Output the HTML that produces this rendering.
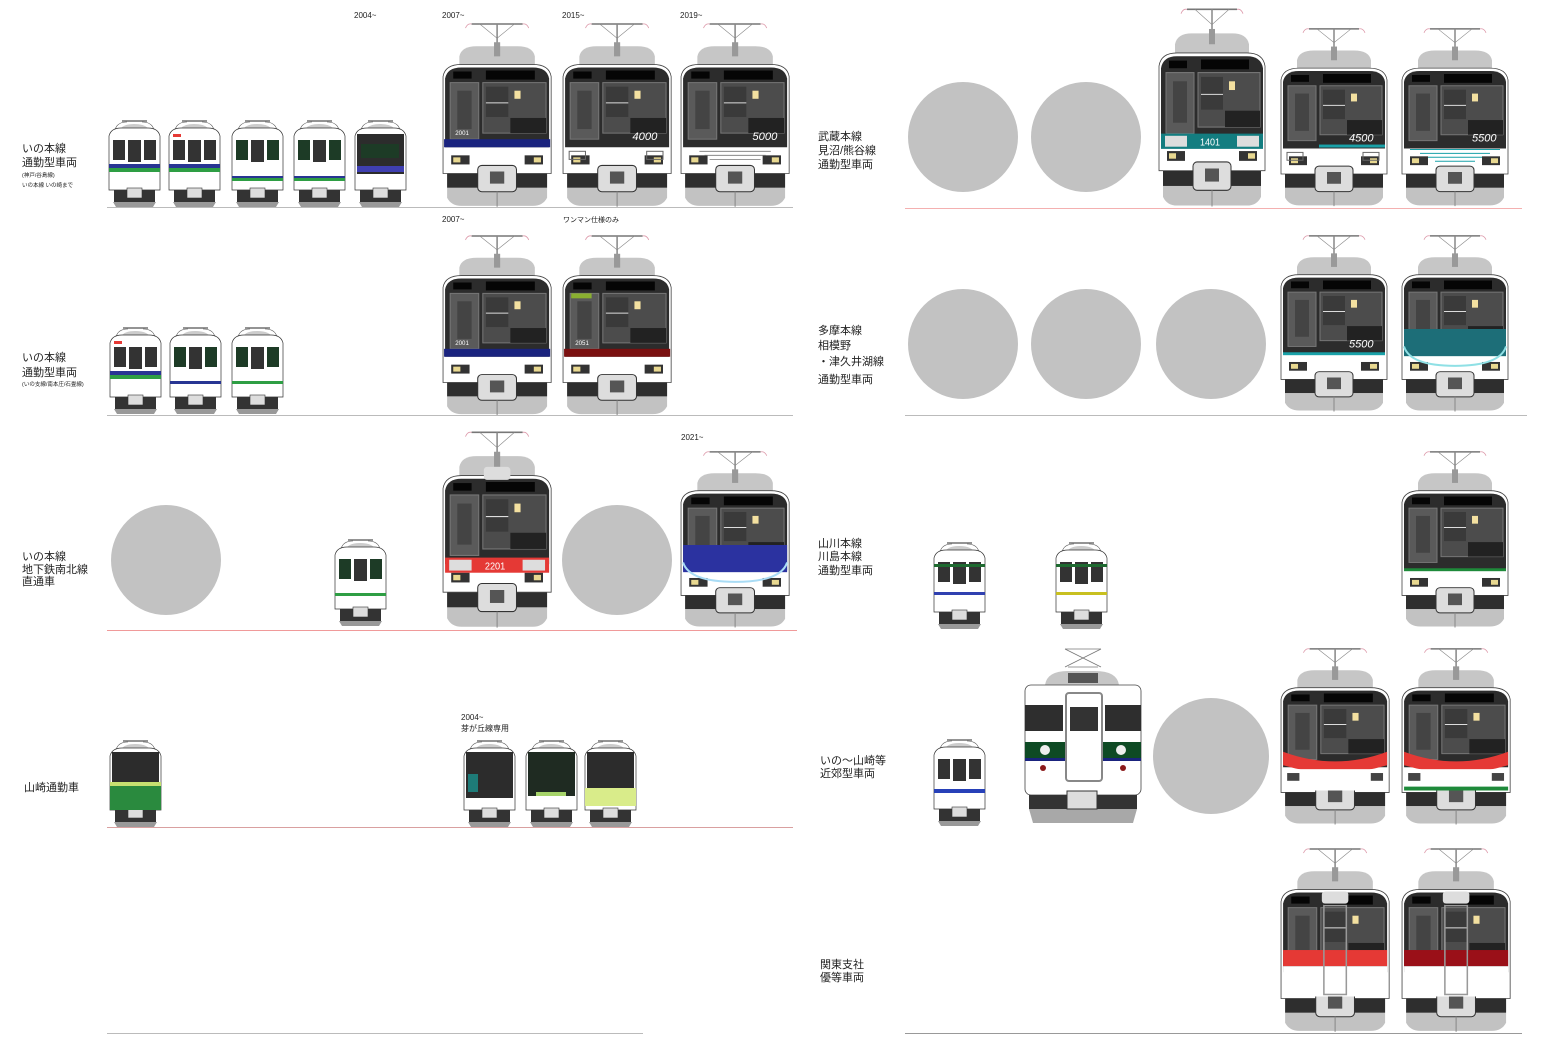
<!DOCTYPE html>
<html><head><meta charset="utf-8"><style>
html,body{margin:0;padding:0;background:#fff;}
svg{display:block;}
text{font-family:"Liberation Sans","Noto Sans CJK JP",sans-serif;fill:#222;}
</style></head><body>
<svg width="1559" height="1051" viewBox="0 0 1559 1051" xmlns="http://www.w3.org/2000/svg">
<defs>
<symbol id="T" viewBox="0 0 110 185" width="110" height="185">
  <line x1="30" y1="4" x2="80" y2="4" stroke="#777" stroke-width="1.5"/>
  <path d="M24 8 Q26 3 30 4 M80 4 Q84 3 86 8" stroke="#d9a" fill="none" stroke-width="0.8"/>
  <line x1="55" y1="4" x2="55" y2="28" stroke="#888" stroke-width="1.5"/>
  <path d="M38 4 L55 18 L72 4" stroke="#888" fill="none" stroke-width="0.6"/>
  <path d="M18 48 L18 36 Q20 26 35 26 L75 26 Q90 26 92 36 L92 48 Z" fill="#c6c6c6"/>
  <rect x="52" y="22" width="6" height="14" fill="#999"/>
  <path d="M2 152 L2 56 Q4 44 20 44 L90 44 Q106 44 108 56 L108 152 Z" fill="#fff" stroke="#444" stroke-width="0.8"/>
  <path d="M4 126 L4 58 Q6 47 20 47 L90 47 Q104 47 106 58 L106 126 Z" fill="#2c2c2c"/>
  <rect x="44" y="50" width="48" height="9" fill="#050505"/>
  <rect x="12" y="51" width="18" height="7" fill="#050505"/>
  <rect x="9" y="62" width="28" height="56" fill="#5a5a5a" stroke="#777" stroke-width="1"/>
  <rect x="16" y="70" width="14" height="38" fill="#444"/>
  <rect x="41" y="62" width="62" height="50" fill="#4c4c4c" stroke="#777" stroke-width="1"/>
  <rect x="44" y="66" width="22" height="30" fill="#3a3a3a"/>
  <line x1="44" y1="82" x2="66" y2="82" stroke="#ddd" stroke-width="1"/>
  <rect x="72" y="70" width="6" height="8" fill="#f3e0a0"/>
  <rect x="68" y="97" width="35" height="15" fill="#222"/>
  <rect x="10" y="134" width="18" height="9" fill="#333"/>
  <rect x="82" y="134" width="18" height="9" fill="#333"/>
  <rect x="12" y="136" width="7" height="5" fill="#e8d890"/>
  <rect x="91" y="136" width="7" height="5" fill="#e8d890"/>
  <path d="M6 152 L104 152 L104 176 Q100 184 90 184 L20 184 Q10 184 6 176 Z" fill="#c2c2c2"/>
  <rect x="6" y="152" width="98" height="14" fill="#2e2e2e"/>
  <rect x="36" y="144" width="38" height="26" rx="4" fill="#ddd" stroke="#333" stroke-width="1"/>
  <rect x="48" y="150" width="14" height="12" fill="#555"/>
  <line x1="55" y1="170" x2="55" y2="185" stroke="#888"/>
</symbol>
<symbol id="S" viewBox="0 0 55 90" width="55" height="90">
  <line x1="15" y1="3" x2="40" y2="3" stroke="#555" stroke-width="1.2"/>
  <path d="M8 12 Q10 4 20 4 M35 4 Q45 4 47 12" stroke="#555" fill="none" stroke-width="0.6"/>
  <path d="M12 14 Q14 6 27 6 Q41 6 43 14 Z" fill="#ccc"/>
  <path d="M2 72 L2 18 Q4 10 14 10 L41 10 Q51 10 53 18 L53 72 Z" fill="#fff" stroke="#333" stroke-width="0.7"/>
  <rect x="6" y="22" width="12" height="20" fill="#333"/>
  <rect x="21" y="22" width="13" height="22" fill="#333"/>
  <rect x="37" y="22" width="12" height="20" fill="#333"/>
  <rect x="7" y="72" width="41" height="12" fill="#333"/>
  <rect x="20" y="70" width="15" height="10" fill="#ddd" stroke="#333" stroke-width="0.6"/>
  <path d="M6 84 L49 84 L46 89 L9 89 Z" fill="#999"/>
</symbol>
</defs>

<g stroke-width="1">
<line x1="107" y1="207.5" x2="793" y2="207.5" stroke="#bbb"/>
<line x1="107" y1="415.5" x2="793" y2="415.5" stroke="#bbb"/>
<line x1="107" y1="630.5" x2="797" y2="630.5" stroke="#f09a9a"/>
<line x1="107" y1="827.5" x2="793" y2="827.5" stroke="#d9a0a0"/>
<line x1="107" y1="1033.5" x2="643" y2="1033.5" stroke="#bbb"/>
<line x1="905" y1="208.5" x2="1522" y2="208.5" stroke="#f4b0b0"/>
<line x1="905" y1="415.5" x2="1527" y2="415.5" stroke="#bbb"/>
<line x1="905" y1="1033.5" x2="1522" y2="1033.5" stroke="#999"/>
</g>

<g fill="#c2c2c2">
<circle cx="963" cy="137" r="55"/><circle cx="1086" cy="137" r="55"/>
<circle cx="963" cy="344" r="55"/><circle cx="1086" cy="344" r="55"/><circle cx="1211" cy="344" r="55"/>
<circle cx="166" cy="560" r="55"/><circle cx="617" cy="560" r="55"/>
<circle cx="1211" cy="756" r="58"/>
</g>

<g font-size="11">
<text x="22" y="152">いの本線</text><text x="22" y="166">通勤型車両</text>
<text x="22" y="177" font-size="5.5">(神戸/谷島線)</text><text x="22" y="187" font-size="5.5">いの本線 いの崎まで</text>
<text x="22" y="361">いの本線</text><text x="22" y="376">通勤型車両</text>
<text x="22" y="386" font-size="5.5">(いの支線/南本庄/石畳線)</text>
<text x="22" y="560">いの本線</text><text x="22" y="573">地下鉄南北線</text><text x="22" y="585">直通車</text>
<text x="24" y="791">山崎通勤車</text>
<text x="818" y="140">武蔵本線</text><text x="818" y="154">見沼/熊谷線</text><text x="818" y="168">通勤型車両</text>
<text x="818" y="334">多摩本線</text><text x="818" y="349">相模野</text><text x="818" y="365">・津久井湖線</text><text x="818" y="383">通勤型車両</text>
<text x="818" y="547">山川本線</text><text x="818" y="560">川島本線</text><text x="818" y="574">通勤型車両</text>
<text x="820" y="764">いの～山崎等</text><text x="820" y="777">近郊型車両</text>
<text x="820" y="968">関東支社</text><text x="820" y="981">優等車両</text>
</g>
<g font-size="8">
<text x="354" y="18">2004~</text><text x="442" y="18">2007~</text><text x="562" y="18">2015~</text><text x="680" y="18">2019~</text>
<text x="442" y="222">2007~</text><text x="563" y="222" font-size="7">ワンマン仕様のみ</text>
<text x="681" y="440">2021~</text>
<text x="461" y="720">2004~</text><text x="461" y="731">芽が丘線専用</text>
</g>

<g>
<g transform="translate(107,118)"><use href="#S"/><rect x="2" y="46" width="51" height="4" fill="#283593"/><rect x="2" y="50" width="51" height="4" fill="#2e9e44"/></g>
<g transform="translate(167,118)"><use href="#S"/><rect x="6" y="16" width="8" height="3" fill="#e53935"/><rect x="2" y="46" width="51" height="4" fill="#283593"/><rect x="2" y="50" width="51" height="4" fill="#2e9e44"/></g>
<g transform="translate(230,118)"><use href="#S"/><rect x="6" y="22" width="12" height="20" fill="#1d3b26"/><rect x="37" y="22" width="12" height="20" fill="#1d3b26"/><rect x="2" y="58" width="51" height="2" fill="#283593"/><rect x="2" y="60" width="51" height="3" fill="#2e9e44"/></g>
<g transform="translate(292,118)"><use href="#S"/><rect x="6" y="22" width="12" height="20" fill="#1d3b26"/><rect x="37" y="22" width="12" height="20" fill="#1d3b26"/><rect x="2" y="58" width="51" height="2" fill="#283593"/><rect x="2" y="60" width="51" height="3" fill="#2e9e44"/></g>
<g transform="translate(353,118)"><use href="#S"/><rect x="4" y="16" width="47" height="40" fill="#2c2c2c"/><rect x="8" y="26" width="38" height="14" fill="#1d3b26"/><rect x="4" y="48" width="47" height="6" fill="#3f3fb0"/></g>
<g transform="translate(108,325)"><use href="#S"/><rect x="6" y="16" width="8" height="3" fill="#e53935"/><rect x="2" y="46" width="51" height="4" fill="#283593"/><rect x="2" y="50" width="51" height="4" fill="#2e9e44"/></g>
<g transform="translate(168,325)"><use href="#S"/><rect x="6" y="22" width="12" height="20" fill="#1d3b26"/><rect x="37" y="22" width="12" height="20" fill="#1d3b26"/><rect x="2" y="56" width="51" height="3" fill="#283593"/></g>
<g transform="translate(230,325)"><use href="#S"/><rect x="6" y="22" width="12" height="20" fill="#1d3b26"/><rect x="37" y="22" width="12" height="20" fill="#1d3b26"/><rect x="2" y="56" width="51" height="3" fill="#2e9e44"/></g>
<g transform="translate(333,537)"><use href="#S"/><rect x="6" y="22" width="12" height="20" fill="#1d3b26"/><rect x="37" y="22" width="12" height="20" fill="#1d3b26"/><rect x="2" y="56" width="51" height="3" fill="#2e9e44"/></g>
<g transform="translate(932,540)"><use href="#S"/><rect x="2" y="24" width="51" height="3" fill="#1e6a30"/><rect x="2" y="52" width="51" height="3" fill="#3040b0"/></g>
<g transform="translate(1054,540)"><use href="#S"/><rect x="2" y="24" width="51" height="3" fill="#1e6a30"/><rect x="2" y="52" width="51" height="3" fill="#c8c020"/></g>
<g transform="translate(108,738)"><use href="#S"/><rect x="4" y="14" width="47" height="30" fill="#2c2c2c"/><rect x="2" y="44" width="51" height="28" fill="#2a8a3e"/><rect x="2" y="44" width="51" height="4" fill="#c6e070"/></g>
<g transform="translate(462,738)"><use href="#S"/><rect x="4" y="14" width="47" height="46" fill="#2c2c2c"/><rect x="6" y="36" width="10" height="18" fill="#1e7b78"/></g>
<g transform="translate(524,738)"><use href="#S"/><rect x="4" y="14" width="47" height="44" fill="#1f2b22"/><rect x="12" y="54" width="30" height="4" fill="#a6d46a"/></g>
<g transform="translate(583,738)"><use href="#S"/><rect x="4" y="14" width="47" height="36" fill="#2c2c2c"/><rect x="2" y="50" width="51" height="18" fill="#d9ec8a"/></g>
<g transform="translate(932,737)"><use href="#S"/><rect x="2" y="52" width="51" height="4" fill="#2740b8"/></g>
</g>

<g>
<g transform="translate(441,20) scale(1.02,1.01)"><use href="#T"/><rect x="3" y="118" width="104" height="8" fill="#1a237e"/><text x="14" y="114" font-size="6" style="fill:#fff">2001</text></g>
<g transform="translate(561,20) scale(1.02,1.01)"><use href="#T"/><text x="70" y="119" font-size="11" font-style="italic" style="fill:#fff">4000</text><rect x="8" y="130" width="16" height="8" fill="none" stroke="#666"/><rect x="84" y="130" width="16" height="8" fill="none" stroke="#666"/></g>
<g transform="translate(679,20) scale(1.02,1.01)"><use href="#T"/><text x="72" y="119" font-size="11" font-style="italic" style="fill:#fff">5000</text><g stroke="#777" stroke-width="0.8"><line x1="20" y1="130" x2="90" y2="130"/><line x1="25" y1="134" x2="85" y2="134"/><line x1="30" y1="138" x2="80" y2="138"/></g></g>
<g transform="translate(441,232) scale(1.02,0.99)"><use href="#T"/><rect x="3" y="118" width="104" height="8" fill="#1a237e"/><text x="14" y="114" font-size="6" style="fill:#fff">2001</text></g>
<g transform="translate(561,232) scale(1.02,0.99)"><use href="#T"/><rect x="3" y="118" width="104" height="8" fill="#7a1010"/><rect x="10" y="62" width="20" height="5" fill="#8ab030"/><text x="14" y="114" font-size="6" style="fill:#fff">2051</text></g>
<g transform="translate(441,428) scale(1.02,1.08)"><use href="#T"/><rect x="4" y="120" width="102" height="14" fill="#e53935"/><rect x="8" y="122" width="22" height="10" fill="#ddd"/><rect x="80" y="122" width="22" height="10" fill="#ddd"/><text x="43" y="131" font-size="9" style="fill:#fff">2201</text><rect x="42" y="36" width="26" height="12" rx="3" fill="#ddd"/></g>
<g transform="translate(679,448) scale(1.02,0.97)"><use href="#T"/><rect x="4" y="100" width="102" height="28" fill="#2b32a0"/><path d="M4 118 Q10 138 55 138 Q100 138 106 118" fill="none" stroke="#a9dcf5" stroke-width="2"/></g>
<g transform="translate(1157,5) scale(1.0,1.09)"><use href="#T"/><rect x="4" y="118" width="102" height="14" fill="#137d80"/><rect x="8" y="120" width="22" height="10" fill="#ddd"/><rect x="80" y="120" width="22" height="10" fill="#ddd"/><text x="43" y="129" font-size="9" style="fill:#fff">1401</text></g>
<g transform="translate(1279,25) scale(1.0,0.98)"><use href="#T"/><rect x="40" y="122" width="66" height="3" fill="#19a1a8"/><text x="70" y="119" font-size="11" font-style="italic" style="fill:#fff">4500</text><rect x="8" y="130" width="16" height="8" fill="none" stroke="#666"/><rect x="84" y="130" width="16" height="8" fill="none" stroke="#666"/></g>
<g transform="translate(1400,25) scale(1.0,0.98)"><use href="#T"/><text x="72" y="119" font-size="11" font-style="italic" style="fill:#fff">5500</text><g stroke="#19a1a8" stroke-width="1"><line x1="10" y1="127" x2="100" y2="127"/><line x1="20" y1="131" x2="90" y2="131"/><line x1="28" y1="135" x2="82" y2="135"/><line x1="35" y1="139" x2="75" y2="139"/></g></g>
<g transform="translate(1279,232) scale(1.0,0.97)"><use href="#T"/><rect x="4" y="124" width="102" height="3" fill="#19a1a8"/><text x="70" y="119" font-size="11" font-style="italic" style="fill:#fff">5500</text></g>
<g transform="translate(1400,232) scale(1.0,0.97)"><use href="#T"/><rect x="4" y="100" width="102" height="28" fill="#1d6e78"/><path d="M4 118 Q10 138 55 138 Q100 138 106 118" fill="none" stroke="#8fe0e5" stroke-width="2"/></g>
<g transform="translate(1400,448) scale(1.0,0.97)"><use href="#T"/><rect x="4" y="124" width="102" height="3" fill="#1e8a3a"/></g>
<g transform="translate(1279,645) scale(1.02,0.97)"><use href="#T"/><path d="M4 110 Q55 130 106 110 L106 124 Q55 140 4 124 Z" fill="#e53935"/><rect x="4" y="128" width="102" height="22" fill="#fff"/><rect x="8" y="132" width="12" height="8" fill="#444"/><rect x="90" y="132" width="12" height="8" fill="#444"/></g>
<g transform="translate(1400,645) scale(1.02,0.97)"><use href="#T"/><path d="M4 110 Q55 130 106 110 L106 124 Q55 140 4 124 Z" fill="#e53935"/><rect x="4" y="128" width="102" height="22" fill="#fff"/><rect x="4" y="146" width="102" height="4" fill="#1e8a3a"/><rect x="8" y="132" width="12" height="8" fill="#444"/><rect x="90" y="132" width="12" height="8" fill="#444"/></g>
<g transform="translate(1279,845) scale(1.02,1.01)"><use href="#T"/><rect x="4" y="104" width="102" height="16" fill="#e53935"/><rect x="4" y="120" width="102" height="30" fill="#fff"/><rect x="42" y="46" width="26" height="12" rx="3" fill="#ddd"/><rect x="44" y="60" width="22" height="88" fill="none" stroke="#999" stroke-width="1.5"/></g>
<g transform="translate(1400,845) scale(1.02,1.01)"><use href="#T"/><rect x="4" y="104" width="102" height="16" fill="#9a1018"/><rect x="4" y="120" width="102" height="30" fill="#fff"/><rect x="42" y="46" width="26" height="12" rx="3" fill="#ddd"/><rect x="44" y="60" width="22" height="88" fill="none" stroke="#999" stroke-width="1.5"/></g>
</g>

<g transform="translate(1023,645)">
  <g stroke="#777" stroke-width="0.8" fill="none">
    <line x1="42" y1="4" x2="78" y2="4"/><line x1="42" y1="4" x2="78" y2="22"/><line x1="78" y1="4" x2="42" y2="22"/>
    <line x1="45" y1="22" x2="75" y2="22"/>
  </g>
  <path d="M22 40 Q24 26 45 26 L72 26 Q94 26 96 40 Z" fill="#c6c6c6"/>
  <rect x="45" y="28" width="30" height="10" fill="#555"/>
  <rect x="2" y="40" width="116" height="110" rx="6" fill="#fff" stroke="#444" stroke-width="0.8"/>
  <rect x="2" y="60" width="38" height="26" fill="#2e2e2e"/>
  <rect x="82" y="60" width="36" height="26" fill="#2e2e2e"/>
  <rect x="2" y="97" width="116" height="16" fill="#0e4a24"/>
  <rect x="2" y="113" width="116" height="3" fill="#1a237e"/>
  <rect x="43" y="48" width="36" height="88" rx="3" fill="#fff" stroke="#888" stroke-width="2"/>
  <rect x="47" y="62" width="28" height="24" fill="#333"/>
  <circle cx="22" cy="105" r="5" fill="#eee"/><circle cx="98" cy="105" r="5" fill="#eee"/>
  <circle cx="20" cy="123" r="3" fill="#8b1a1a"/><circle cx="100" cy="123" r="3" fill="#8b1a1a"/>
  <rect x="6" y="150" width="108" height="14" fill="#333"/>
  <path d="M6 164 L114 164 L110 178 L10 178 Z" fill="#a8a8a8"/>
  <rect x="44" y="146" width="30" height="18" fill="#ddd" stroke="#333"/>
</g>
</svg>
</body></html>
